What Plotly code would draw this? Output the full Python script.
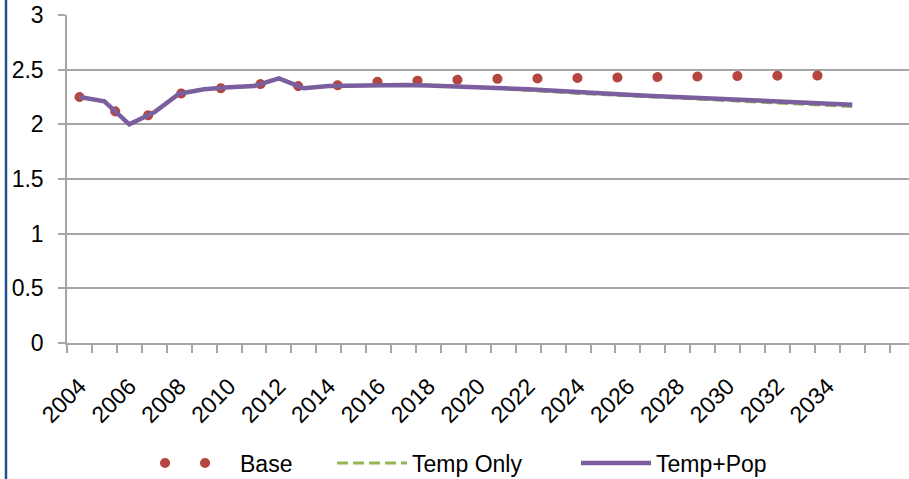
import plotly.graph_objects as go

# ---- data ----
years = list(range(2004, 2036))
base = [2.25, 2.21, 2.00, 2.11, 2.28, 2.32, 2.34, 2.35, 2.42, 2.33,
        2.36, 2.37, 2.39, 2.40, 2.41, 2.418, 2.418, 2.418, 2.418, 2.418,
        2.418, 2.418, 2.42, 2.425, 2.43, 2.435, 2.44, 2.443, 2.445, 2.445,
        2.447, 2.447]
temp_only = [2.25, 2.21, 2.00, 2.11, 2.28, 2.32, 2.34, 2.35, 2.42, 2.33,
             2.35, 2.355, 2.36, 2.36, 2.355, 2.35, 2.337, 2.326, 2.314, 2.298,
             2.283, 2.272, 2.261, 2.25, 2.24, 2.23, 2.221, 2.21, 2.198, 2.188,
             2.177, 2.163]
temp_pop = [2.25, 2.21, 2.00, 2.11, 2.28, 2.32, 2.34, 2.35, 2.42, 2.33,
            2.35, 2.355, 2.36, 2.36, 2.355, 2.35, 2.34, 2.33, 2.32, 2.305,
            2.29, 2.28, 2.27, 2.26, 2.25, 2.24, 2.235, 2.225, 2.215, 2.205,
            2.195, 2.18]
series_names = ["Base", "Temp Only", "Temp+Pop"]
x_tick_vals = list(range(2004, 2035, 2))
x_tick_text = [str(v) for v in x_tick_vals]
y_tick_vals = [0, 0.5, 1, 1.5, 2, 2.5, 3]
y_tick_text = ["0", "0.5", "1", "1.5", "2", "2.5", "3"]

# ---- layout constants ----
W, H = 909, 479
ML, MR, MT, MB = 67, 0, 15, 136
PW = W - ML - MR
PH = H - MT - MB
FONT = "Liberation Sans, Arial, sans-serif"
FS = 23
GRID = "#a6a6a6"

fig = go.Figure()
fig.add_trace(go.Scatter(
    x=years, y=base, name=series_names[0], mode="lines", legend="legend",
    line=dict(color="#b5463f", width=10, dash="0.1px,39.9px"),
))
fig.add_trace(go.Scatter(
    x=years, y=temp_only, name=series_names[1], mode="lines", legend="legend2",
    line=dict(color="#93b552", width=3, dash="11px,5px"),
))
fig.add_trace(go.Scatter(
    x=years, y=temp_pop, name=series_names[2], mode="lines", legend="legend3",
    line=dict(color="#7a5e9e", width=4.5),
))

# left blue frame edge
fig.add_shape(type="line", xref="paper", yref="paper",
              x0=(6 - ML) / PW, x1=(6 - ML) / PW, y0=-1, y1=2,
              line=dict(color="#22508e", width=2.5))


def leg(px):
    return dict(orientation="h", x=(px - ML) / PW, xanchor="left",
                yref="container", y=(H - 463) / H, yanchor="middle",
                itemwidth=70, font=dict(family=FONT, size=FS, color="black"),
                bgcolor="rgba(0,0,0,0)")


fig.update_layout(
    width=W, height=H,
    margin=dict(l=ML, r=MR, t=MT, b=MB, pad=0, autoexpand=False),
    paper_bgcolor="white", plot_bgcolor="white",
    font=dict(family=FONT, size=FS, color="black"),
    showlegend=True,
    legend=leg(160), legend2=leg(332), legend3=leg(576),
    xaxis=dict(
        range=[2003.5, 2003.5 + PW / 24.93], automargin=False,
        tickmode="array", tickvals=x_tick_vals, ticktext=x_tick_text,
        tickangle=-45, ticks="", showgrid=False, zeroline=False,
        showline=True, linecolor=GRID, linewidth=1.5,
        ticklabelstandoff=19,
        minor=dict(tick0=2003.5, dtick=1, ticks="outside", ticklen=8,
                   tickcolor=GRID, tickwidth=1.5, showgrid=False),
        tickfont=dict(family=FONT, size=FS, color="black"),
    ),
    yaxis=dict(
        range=[0, 3], automargin=False,
        tickmode="array", tickvals=y_tick_vals, ticktext=y_tick_text,
        ticks="outside", ticklen=7, tickcolor=GRID, tickwidth=1.5,
        showgrid=True, gridcolor=GRID, gridwidth=1.5, zeroline=False,
        showline=True, linecolor=GRID, linewidth=1.5,
        ticklabelstandoff=10,
        tickfont=dict(family=FONT, size=FS, color="black"),
    ),
)

post = """
var gd = document.getElementById('{plot_id}');
var tr = gd.querySelectorAll('.scatterlayer .trace');
if (tr.length) tr[0].querySelectorAll('path.js-line').forEach(function(p){p.style.strokeLinecap='round';});
gd.querySelectorAll('.legend').forEach(function(lgd){
  lgd.querySelectorAll('.traces').forEach(function(g){
    g.querySelectorAll('path.js-line').forEach(function(p){
      p.setAttribute('d','M5,0h70');
      if ((p.style.strokeDasharray || '').indexOf('39.9') >= 0) p.style.strokeLinecap='round';
    });
  });
});
"""
fig.write_html("out.html", post_script=post)
